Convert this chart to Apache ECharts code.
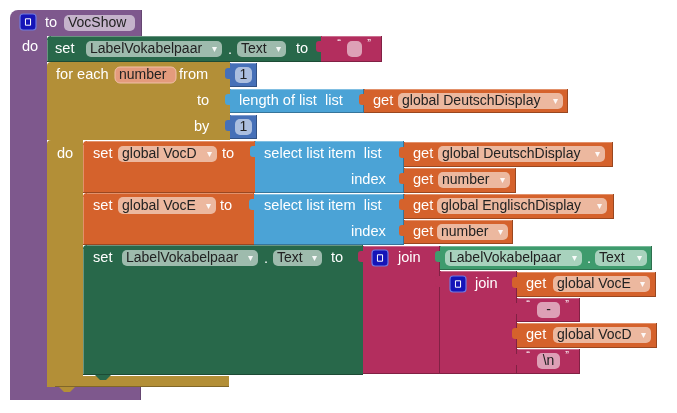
<!DOCTYPE html>
<html><head><meta charset="utf-8">
<script src="https://cdn.jsdelivr.net/npm/echarts@6/dist/echarts.min.js"></script>
<style>html,body{margin:0;padding:0;background:#fff}#c{width:677px;height:413px}</style>
</head><body><div id="c"></div>
<script>
// ---- block palette (by block category) ----
const palette = {
  proc:'#7E588D', ctrl:'#B38F37', setter:'#28684A', getterC:'#3E9B6D',
  text:'#B32E5E', math:'#4670B8', list:'#4BA3D6', variable:'#D5622C'
};
// ---- blocks: [category, x0, y0, x1, y1, role] ----
const blocks = [
  ['proc',10,10,142,36,'head'],
  ['proc',10,30,47,400,'col'],
  ['proc',10,387,141,400,'foot'],
  ['setter',47,36,322,62,'stmt'],
  ['text',321,36,382,62,'val'],
  ['ctrl',47,62,230,140,'plain'],
  ['ctrl',47,140,83,387,'plain'],
  ['ctrl',47,376,229,387,'stmt'],
  ['math',230,63,257,87,'val'],
  ['list',230,89,364,113,'val'],
  ['variable',364,89,568,113,'val'],
  ['math',230,115,257,139,'val'],
  ['variable',83,141,255,193,'stmt'],
  ['list',255,141,404,193,'val'],
  ['variable',404,142,613,167,'val'],
  ['variable',404,168,516,193,'val'],
  ['variable',83,193,254,245,'stmt'],
  ['list',254,194,404,245,'val'],
  ['variable',404,194,614,219,'val'],
  ['variable',404,220,513,244,'val'],
  ['setter',83,245,363,375,'stmt'],
  ['text',363,246,440,374,'val'],
  ['getterC',440,246,652,270,'val'],
  ['text',440,271,517,374,'val'],
  ['variable',517,272,656,297,'val'],
  ['text',517,298,580,322,'val'],
  ['variable',517,323,657,348,'val'],
  ['text',517,349,580,374,'val']
];
// ---- editable fields: [x0, y0, x1, y1, text, dropdown, kind] ----
const fields = [
  [64,15,135,31,'VocShow',0,'n'],
  [86,41,222,57,'LabelVokabelpaar',1,'n'],
  [237,41,286,57,'Text',1,'n'],
  [347,41,362,57,'',0,'n'],
  [115,67,176,83,'number',0,'var'],
  [235,67,252,83,'1',0,'n'],
  [235,119,252,135,'1',0,'n'],
  [398,93,563,109,'global DeutschDisplay',1,'n'],
  [118,146,217,162,'global VocD',1,'n'],
  [438,146,605,162,'global DeutschDisplay',1,'n'],
  [438,172,510,188,'number',1,'n'],
  [118,197,216,214,'global VocE',1,'n'],
  [437,198,607,214,'global EnglischDisplay',1,'n'],
  [437,224,508,240,'number',1,'n'],
  [122,250,258,266,'LabelVokabelpaar',1,'n'],
  [273,250,322,266,'Text',1,'n'],
  [445,250,582,266,'LabelVokabelpaar',1,'n'],
  [595,250,647,266,'Text',1,'n'],
  [553,276,650,292,'global VocE',1,'n'],
  [537,302,560,318,'-',0,'n'],
  [553,327,651,343,'global VocD',1,'n'],
  [537,353,560,369,'\\n',0,'n']
];
// ---- plain labels: [x, y, text, kind] ----
const labels = [
  [45,23,'to','w'],[22,47,'do','w'],
  [55,49,'set','w'],[228,50,'.','w'],[296,49,'to','w'],[339,44,'\u201c','q'],[369,44,'\u201d','q'],
  [56,75,'for each','w'],[179,75,'from','w'],[197,101,'to','w'],[194,127,'by','w'],
  [239,101,'length of list  list','w'],[373,101,'get','w'],
  [57,154,'do','w'],
  [93,154,'set','w'],[222,154,'to','w'],[264,154,'select list item  list','w'],[351,180,'index','w'],[413,154,'get','w'],[413,180,'get','w'],
  [93,206,'set','w'],[220,206,'to','w'],[264,206,'select list item  list','w'],[351,232,'index','w'],[413,206,'get','w'],[413,232,'get','w'],
  [93,258,'set','w'],[264,259,'.','w'],[331,258,'to','w'],[398,258,'join','w'],[587,259,'.','w'],
  [475,284,'join','w'],[526,284,'get','w'],[526,335,'get','w'],
  [528,305,'\u201c','q'],[567,305,'\u201d','q'],[528,356,'\u201c','q'],[567,356,'\u201d','q']
];
// ---- mutator icons: [x, y] ----
const icons = [[20,14],[372,250],[450,276]];

const FONT = '"Liberation Sans", Arial, sans-serif';
function shade(hex, f){
  const n = parseInt(hex.slice(1),16);
  let r=(n>>16)&255,g=(n>>8)&255,b=n&255;
  if(f>0){r+= (255-r)*f; g+=(255-g)*f; b+=(255-b)*f;} else {r*=1+f; g*=1+f; b*=1+f;}
  return 'rgb('+Math.round(r)+','+Math.round(g)+','+Math.round(b)+')';
}
const chart = echarts.init(document.getElementById('c'), null, {renderer:'canvas'});
function idx(arr){ return arr.map((_,i)=>[i]); }

function renderBlock(params, api){
  const b = blocks[params.dataIndex];
  const col = palette[b[0]];
  const p0 = api.coord([b[1],b[2]]), p1 = api.coord([b[3],b[4]]);
  const w = p1[0]-p0[0], h = p1[1]-p0[1];
  const role = b[5];
  let r = 0;
  if(role==='head') r=[8,0,0,0];
  else if(role==='col') r=[0,0,0,8];
  else if(role==='stmt' || role==='plain') r=[4,0,0,0];
  if(b[0]==='ctrl' && role==='stmt') r=[0,0,0,8];
  const children = [{type:'rect', shape:{x:p0[0],y:p0[1],width:w,height:h,r:r}, style:{fill:col}}];
  const hi = shade(col,0.3), lo = shade(col,-0.28);
  if(role==='val'){
    const t0 = api.coord([b[1]-5,b[2]+5]), t1 = api.coord([b[1]+1,b[2]+16]);
    children.push({type:'rect', shape:{x:t0[0],y:t0[1],width:t1[0]-t0[0],height:t1[1]-t0[1],r:[3,0,0,3]}, style:{fill:col}});
    children.push({type:'line', shape:{x1:p0[0],y1:p1[1]-0.5,x2:p1[0],y2:p1[1]-0.5}, style:{stroke:lo,lineWidth:1}});
    children.push({type:'line', shape:{x1:p1[0]-0.5,y1:p0[1],x2:p1[0]-0.5,y2:p1[1]}, style:{stroke:lo,lineWidth:1}});
    children.push({type:'line', shape:{x1:p0[0]+1,y1:p0[1]+0.5,x2:p1[0]-1,y2:p0[1]+0.5}, style:{stroke:hi,lineWidth:1}});
  }
  if(role==='stmt'){
    const a = api.coord([b[1]+12,b[4]]), c = api.coord([b[1]+28,b[4]+5]);
    const x1=a[0], y1=a[1], x2=c[0], y2=c[1];
    children.push({type:'polygon', shape:{points:[[x1,y1],[x1+5,y2],[x2-5,y2],[x2,y1]]}, style:{fill:col}});
    children.push({type:'line', shape:{x1:p0[0]+(b[0]==='ctrl'?8:0),y1:p1[1]-0.5,x2:p1[0],y2:p1[1]-0.5}, style:{stroke:lo,lineWidth:1}});
    if(b[0]!=='ctrl'){
      children.push({type:'line', shape:{x1:p0[0]+4,y1:p0[1]+0.5,x2:p1[0]-1,y2:p0[1]+0.5}, style:{stroke:hi,lineWidth:1}});
      children.push({type:'line', shape:{x1:p0[0]+0.5,y1:p0[1]+4,x2:p0[0]+0.5,y2:p1[1]-1}, style:{stroke:hi,lineWidth:1}});
    }
  }
  if(role==='foot' || role==='head'){
    children.push({type:'line', shape:{x1:p1[0]-0.5,y1:p0[1],x2:p1[0]-0.5,y2:p1[1]}, style:{stroke:shade(col,-0.2),lineWidth:1}});
  }
  return {type:'group', children};
}

function renderField(params, api){
  const f = fields[params.dataIndex];
  const p0 = api.coord([f[0],f[1]]), p1 = api.coord([f[2],f[3]]);
  const kids = [];
  const bg = f[6]==='var' ? '#E49B7D' : 'rgba(255,255,255,0.55)';
  kids.push({type:'rect', shape:{x:p0[0],y:p0[1],width:p1[0]-p0[0],height:p1[1]-p0[1],r:5},
    style:{fill:bg, stroke: f[6]==='var' ? '#F0C0A8' : null, lineWidth:1}});
  const cy = (p0[1]+p1[1])/2;
  if(f[4]!==''){
    const single = !f[5] && f[4].length<=2;
    kids.push({type:'text', style:{text:f[4], x: single ? (p0[0]+p1[0])/2 : p0[0]+4, y:cy+0.5,
      align: single?'center':'left', verticalAlign:'middle', font:'14px '+FONT, fill:'#222'}});
  }
  if(f[5]){
    kids.push({type:'text', style:{text:'\u25BE', x:p1[0]-5, y:cy+0.5, align:'right', verticalAlign:'middle',
      font:'10px "DejaVu Sans", sans-serif', fill:'rgba(255,255,255,0.9)'}});
  }
  return {type:'group', children:kids};
}

function renderLabel(params, api){
  const l = labels[params.dataIndex];
  const p = api.coord([l[0],l[1]]);
  const q = l[3]==='q';
  return {type:'text', style:{text:l[2], x:p[0], y:p[1], align:q?'center':'left', verticalAlign:'middle',
    font:(q?'11px ':'14.6px ')+FONT, fill:'#fff'}};
}

function renderIcon(params, api){
  const ic = icons[params.dataIndex];
  const p0 = api.coord([ic[0],ic[1]]), p1 = api.coord([ic[0]+16,ic[1]+16]);
  const w = p1[0]-p0[0];
  return {type:'group', children:[
    {type:'rect', shape:{x:p0[0],y:p0[1],width:w,height:w,r:3}, style:{fill:'#1515B8', stroke:'#6E78E0', lineWidth:1.2}},
    {type:'rect', shape:{x:p0[0]+w*0.34,y:p0[1]+w*0.3,width:w*0.32,height:w*0.4}, style:{fill:'none', stroke:'#fff', lineWidth:1}}
  ]};
}

chart.setOption({
  animation:false,
  grid:{left:0,right:0,top:0,bottom:0},
  xAxis:{type:'value',min:0,max:677,show:false},
  yAxis:{type:'value',min:0,max:413,inverse:true,show:false},
  series:[
    {type:'custom', renderItem:renderBlock, data:idx(blocks), z:1, silent:true},
    {type:'custom', renderItem:renderField, data:idx(fields), z:2, silent:true},
    {type:'custom', renderItem:renderLabel, data:idx(labels), z:3, silent:true},
    {type:'custom', renderItem:renderIcon, data:idx(icons), z:4, silent:true}
  ]
});
</script></body></html>
